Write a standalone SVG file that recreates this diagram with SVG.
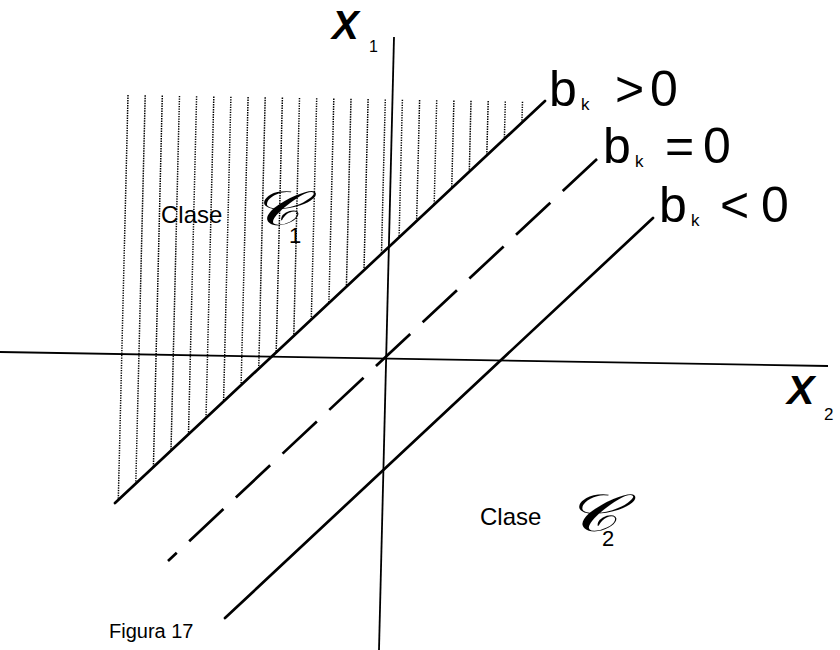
<svg xmlns="http://www.w3.org/2000/svg" width="840" height="650" viewBox="0 0 840 650">
<style>
.t{font-family:"Liberation Sans",Arial,sans-serif;fill:#000}
.ax{stroke:#000;stroke-width:1.8;fill:none}
.ln{stroke:#000;stroke-width:2.7;fill:none;stroke-linecap:round}
.hatch{stroke:#000;stroke-width:1.5;stroke-dasharray:1.4 1.1;fill:none}
.scr{font-family:"Liberation Serif","DejaVu Serif",serif;font-style:italic;fill:#000}
</style>
<rect width="840" height="650" fill="#fff"/>
<g id="hatching">
<path class="hatch" d="M128,95 L118.3,499.9 M145.2,95.3 L135.8,483.5 M162.3,95.6 L153.4,467.1 M179.5,95.9 L171,450.7 M196.6,96.2 L188.5,434.3 M213.8,96.5 L206,417.9 M230.9,96.7 L223.6,401.4 M248.1,97 L241.1,385 M265.2,97.3 L258.7,368.6 M282.4,97.6 L276.2,352.2 M299.5,97.9 L293.8,335.8 M316.7,98.2 L311.3,319.4 M333.8,98.5 L328.9,303 M351,98.8 L346.4,286.6 M368.1,99.1 L364,270.2 M385.3,99.4 L381.5,253.8 M402.4,99.7 L399.1,237.3 M419.6,100 L416.6,220.9 M436.7,100.2 L434.2,204.5 M453.9,100.5 L451.7,188.1 M471,100.8 L469.3,171.7 M488.2,101.1 L486.8,155.3 M505.3,101.4 L504.4,138.9 M522.5,101.7 L521.9,122.5"/>
</g>
<g id="connectors">
<line id="axis-x1" class="ax" x1="394" y1="37" x2="379" y2="650"/>
<line id="axis-x2" class="ax" x1="0" y1="352" x2="828" y2="366"/>
<line id="line-bpos" class="ln" x1="115" y1="503" x2="545" y2="101"/>
<line id="line-bzero" class="ln" x1="168" y1="561" x2="598" y2="158" stroke-dasharray="47 17" stroke-dashoffset="35" style="stroke-linecap:butt"/>
<line id="line-bneg" class="ln" x1="225" y1="618" x2="653" y2="218"/>
</g>
<g id="label-x1">
<text class="t" x="332" y="39" font-size="40" font-style="italic" font-weight="bold">X</text>
<text class="t" x="369" y="52" font-size="16">1</text>
</g>
<g id="label-x2">
<text class="t" x="787" y="404" font-size="41" font-style="italic" font-weight="bold">X</text>
<text class="t" x="824" y="420" font-size="17">2</text>
</g>
<g id="label-bpos">
<text class="t" x="549" y="106" font-size="50">b</text>
<text class="t" x="581" y="110" font-size="17">k</text>
<text class="t" x="615" y="106" font-size="50">&gt;</text>
<text class="t" x="650" y="106" font-size="50">0</text>
</g>
<g id="label-bzero">
<text class="t" x="603" y="163" font-size="50">b</text>
<text class="t" x="635" y="167" font-size="17">k</text>
<text class="t" x="665" y="163" font-size="50">=</text>
<text class="t" x="703" y="163" font-size="50">0</text>
</g>
<g id="label-bneg">
<text class="t" x="659" y="222" font-size="50">b</text>
<text class="t" x="691" y="226" font-size="17">k</text>
<text class="t" x="720" y="222" font-size="50">&lt;</text>
<text class="t" x="761" y="222" font-size="50">0</text>
</g>
<g id="class-c1">
<text class="t" x="161" y="223" font-size="24">Clase</text>
<text class="scr" transform="translate(251,225) scale(1.4,1)" font-size="48">𝒞</text>
<text class="t" x="289" y="243" font-size="22">1</text>
</g>
<g id="class-c2">
<text class="t" x="480" y="525" font-size="24">Clase</text>
<text class="scr" transform="translate(565,531) scale(1.4,1)" font-size="52">𝒞</text>
<text class="t" x="602" y="546" font-size="22">2</text>
</g>
<g id="caption">
<text class="t" x="109" y="638" font-size="20">Figura 17</text>
</g>
</svg>
